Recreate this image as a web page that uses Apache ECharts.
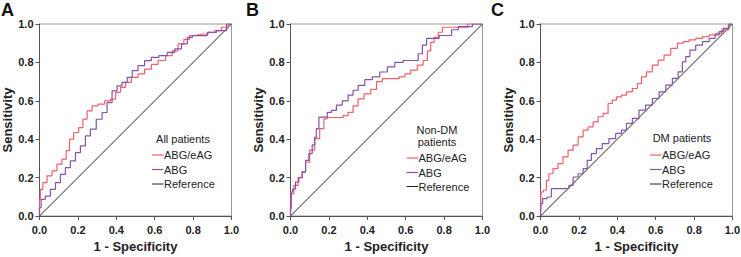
<!DOCTYPE html>
<html>
<head>
<meta charset="utf-8">
<script src="https://cdn.jsdelivr.net/npm/echarts@6/dist/echarts.min.js"></script>
<style>
html,body{margin:0;padding:0;background:#fff;}
#chart{width:741px;height:257px;}
</style>
</head>
<body>
<div id="chart"></div>
<script>
// ---- data ----
const panelLetters = ['A', 'B', 'C'];
const legendTitles = [['All patients'], ['Non-DM', 'patients'], ['DM patients']];
const seriesNames = ['ABG/eAG', 'ABG', 'Reference'];
const xTitle = '1 - Specificity';
const yTitle = 'Sensitivity';
const tickValues = [0, 0.2, 0.4, 0.6, 0.8, 1.0];

const refX = [0, 1];
const refY = [0, 1];

// Panel A: All patients
const aEagX = [0, 0, .009, .026, .052, .078, .104, .130, .148, .165, .191, .217, .235, .261, .287, .322, .357, .383, .409, .435, .461, .496, .530, .565, .600, .635, .678, .704, .739, .765, .800, .826, .861, .896, .930, .965, 1];
const aEagY = [0, .087, .139, .174, .209, .235, .27, .296, .34, .40, .435, .46, .505, .548, .574, .583, .60, .609, .644, .67, .696, .722, .74, .765, .79, .81, .835, .86, .896, .92, .94, .943, .948, .956, .965, .983, 1];
const aAbgX = [0, 0, .017, .043, .070, .096, .122, .148, .174, .200, .226, .252, .278, .313, .339, .365, .391, .417, .443, .470, .496, .530, .565, .600, .643, .687, .722, .757, .783, .809, .852, .896, .948, 1];
const aAbgY = [0, .043, .087, .104, .139, .174, .217, .252, .287, .33, .365, .417, .452, .504, .539, .591, .652, .678, .696, .722, .757, .783, .809, .826, .835, .852, .87, .896, .93, .939, .939, .956, .965, 1];

// Panel B: Non-DM patients
const bEagX = [0, 0, .009, .026, .052, .070, .087, .113, .139, .165, .183, .200, .261, .287, .313, .339, .365, .400, .435, .461, .496, .548, .583, .609, .643, .678, .704, .722, .739, .757, .783, .800, .843, 1];
const bEagY = [0, .038, .117, .16, .2, .23, .28, .343, .403, .455, .506, .513, .513, .523, .54, .574, .61, .636, .66, .70, .716, .716, .725, .74, .76, .786, .81, .86, .904, .93, .957, .983, .983, 1];
const bAbgX = [0, 0, .005, .017, .035, .052, .070, .087, .104, .122, .130, .139, .157, .183, .200, .226, .252, .287, .313, .339, .365, .409, .443, .487, .522, .565, .609, .652, .678, .696, .722, .757, .791, .826, .852, .896, 1];
const bAbgY = [0, .02, .125, .14, .177, .2, .23, .29, .325, .37, .41, .455, .515, .515, .54, .55, .577, .60, .63, .655, .68, .71, .725, .75, .777, .80, .81, .81, .845, .89, .925, .925, .94, .94, .97, .986, 1];

// Panel C: DM patients
const cEagX = [0, 0, .005, .026, .035, .052, .078, .104, .130, .157, .183, .209, .235, .261, .287, .313, .339, .365, .383, .409, .435, .461, .496, .513, .539, .565, .600, .626, .661, .696, .730, .757, .791, .826, .861, .896, .930, .957, 1];
const cEagY = [0, .012, .125, .134, .186, .22, .247, .273, .308, .343, .369, .412, .447, .464, .49, .517, .534, .586, .603, .62, .63, .647, .664, .69, .725, .751, .786, .812, .838, .873, .9, .908, .917, .925, .934, .943, .951, .969, 1];
const cAbgX = [0, 0, .005, .017, .052, .061, .139, .157, .183, .209, .235, .252, .278, .304, .339, .374, .409, .435, .461, .496, .530, .565, .600, .635, .670, .704, .730, .748, .765, .791, .826, .861, .896, .922, .939, .965, 1];
const cAbgY = [0, .012, .064, .09, .099, .143, .143, .16, .203, .22, .247, .29, .325, .351, .377, .403, .43, .447, .482, .508, .551, .577, .612, .647, .682, .717, .751, .803, .83, .864, .89, .908, .925, .943, .96, .977, 1];

// ---- build ----
const panelData = [
  [[aEagX, aEagY], [aAbgX, aAbgY], [refX, refY]],
  [[bEagX, bEagY], [bAbgX, bAbgY], [refX, refY]],
  [[cEagX, cEagY], [cAbgX, cAbgY], [refX, refY]]
];
const zip = (xs, ys) => xs.map((x, i) => [x, ys[i]]);

const FONT = 'Arial, "Liberation Sans", Helvetica, sans-serif';
const colors = ['#F0606B', '#8753A6', '#222222'];
const widths = [1.2, 1.2, 1];
const gridLeft = [39.5, 290.5, 540.5];
const gridTop = 24;
const gridSize = 192;

const grids = [], xAxes = [], yAxes = [], series = [], graphics = [];

panelLetters.forEach((letter, p) => {
  grids.push({
    left: gridLeft[p], top: gridTop, width: gridSize, height: gridSize,
    show: true, borderColor: '#9a9a9a', borderWidth: 1,
    backgroundColor: 'transparent', containLabel: false, outerBoundsMode: 'none'
  });
  const axisCommon = {
    type: 'value', min: 0, max: 1, interval: 0.2, gridIndex: p,
    nameLocation: 'middle',
    nameTextStyle: { fontFamily: FONT, fontWeight: 'bold', fontSize: 13, color: '#222' },
    axisLine: { show: true, onZero: false, lineStyle: { color: '#555', width: 1 } },
    axisTick: { show: true, inside: false, length: 4, lineStyle: { color: '#555' } },
    axisLabel: { fontFamily: FONT, fontWeight: 'bold', fontSize: 11, color: '#222',
      formatter: v => v.toFixed(1), showMinLabel: true, showMaxLabel: true },
    splitLine: { show: false }
  };
  xAxes.push(Object.assign({}, axisCommon, {
    name: xTitle, nameGap: 24,
    axisLabel: Object.assign({}, axisCommon.axisLabel, { margin: 8 })
  }));
  yAxes.push(Object.assign({}, axisCommon, {
    name: yTitle, nameGap: 24, nameRotate: 90,
    axisLabel: Object.assign({}, axisCommon.axisLabel, { margin: 6 })
  }));
  panelData[p].forEach((pair, s) => {
    series.push({
      type: 'line', name: seriesNames[s], xAxisIndex: p, yAxisIndex: p,
      data: zip(pair[0], pair[1]),
      step: s === 2 ? false : 'middle',
      showSymbol: false, symbol: 'none', silent: true, animation: false,
      z: s === 2 ? 1 : 2 + s,
      lineStyle: { color: colors[s], width: widths[s] },
      itemStyle: { color: colors[s] }
    });
  });

  // panel letter
  graphics.push({
    type: 'text', left: [1, 246, 491][p], top: 1,
    style: { text: letter, font: 'bold 18px ' + FONT, fill: '#111' }
  });
  // legend title
  const titleCx = [183, 437, 682][p];
  const titleY = [[139], [130, 142], [138]][p];
  legendTitles[p].forEach((t, k) => {
    graphics.push({
      type: 'text', x: titleCx, y: titleY[k],
      style: { text: t, font: '11px ' + FONT, fill: '#222', align: 'center', verticalAlign: 'middle' }
    });
  });
  // legend items
  const lx = [152, 406.5, 650][p];
  const ly = [[155, 169.5, 184], [158, 172.5, 186.5], [155, 169.5, 184]][p];
  seriesNames.forEach((nm, s) => {
    graphics.push({
      type: 'line', shape: { x1: lx, y1: ly[s], x2: lx + 11.5, y2: ly[s] },
      style: { stroke: colors[s], lineWidth: widths[s] }
    });
    graphics.push({
      type: 'text', x: lx + 12, y: ly[s],
      style: { text: nm, font: '11px ' + FONT, fill: '#222', align: 'left', verticalAlign: 'middle' }
    });
  });
});

const chart = echarts.init(document.getElementById('chart'), null, { renderer: 'svg' });
chart.setOption({
  animation: false,
  backgroundColor: '#fff',
  grid: grids,
  xAxis: xAxes,
  yAxis: yAxes,
  series: series,
  graphic: graphics
});
</script>
</body>
</html>
